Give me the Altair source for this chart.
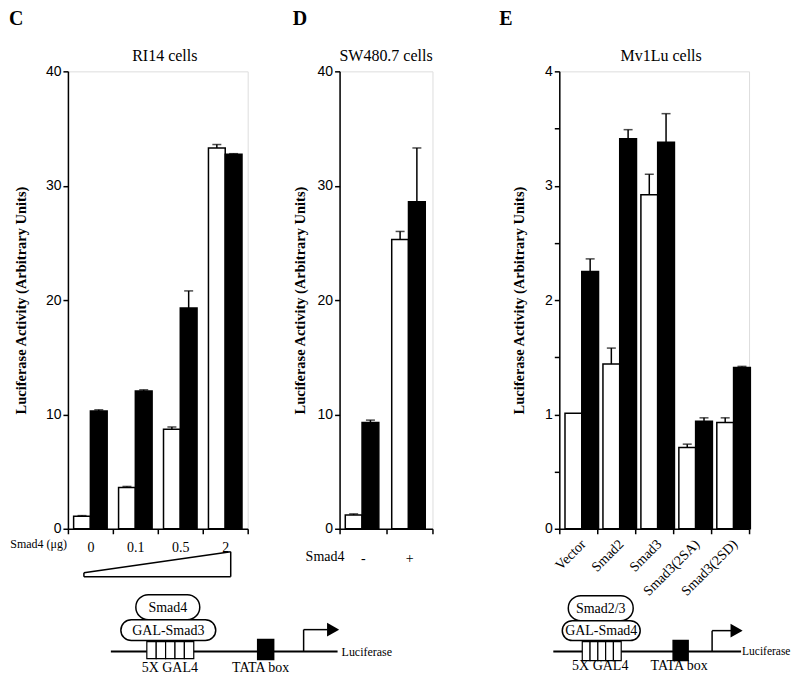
import altair as alt
import pandas as pd

SERIF = "Liberation Serif"
SANS = "Liberation Sans"
BLK = "black"
YTITLE = "Luciferase Activity (Arbitrary Units)"

# ---------------- data ----------------
C_doses = ["0", "0.1", "0.5", "2"]
C_open = [1.1, 3.6, 8.7, 33.3]
C_open_err = [0.05, 0.1, 0.2, 0.3]
C_solid = [10.3, 12.05, 19.3, 32.75]
C_solid_err = [0.1, 0.1, 1.5, 0.05]

D_smad4 = ["-", "+"]
D_open = [1.2, 25.3]
D_open_err = [0.1, 0.7]
D_solid = [9.3, 28.6]
D_solid_err = [0.2, 4.7]

E_constructs = ["Vector", "Smad2", "Smad3", "Smad3(2SA)", "Smad3(2SD)"]
E_open = [1.01, 1.44, 2.92, 0.71, 0.93]
E_open_err = [0.0, 0.14, 0.18, 0.03, 0.04]
E_solid = [2.25, 3.41, 3.38, 0.94, 1.41]
E_solid_err = [0.11, 0.08, 0.25, 0.03, 0.01]

ONE = pd.DataFrame({"k": [0]})


def make_frame(groups, o, oe, s, se):
    rows = []
    for g, v, e in zip(groups, o, oe):
        rows.append(dict(group=g, series="open", value=v, err=e, top=v + e))
    for g, v, e in zip(groups, s, se):
        rows.append(dict(group=g, series="solid", value=v, err=e, top=v + e))
    return pd.DataFrame(rows)


def txt(s, x, y, size=14, font=SERIF, align="center", baseline="alphabetic", weight="normal"):
    return alt.Chart(ONE).mark_text(text=s, fontSize=size, font=font, align=align,
                                    baseline=baseline, fontWeight=weight, color=BLK
                                    ).encode(x=alt.value(x), y=alt.value(y))


def seg(x1, y1, x2, y2, w=1.5):
    return alt.Chart(ONE).mark_rule(color=BLK, strokeWidth=w).encode(
        x=alt.value(x1), x2=alt.value(x2), y=alt.value(y1), y2=alt.value(y2))


def box(x1, y1, x2, y2, fill="white", r=0, w=1.5):
    m = dict(fill=fill, stroke=BLK, strokeWidth=w)
    if r:
        m["cornerRadius"] = r
    return alt.Chart(ONE).mark_rect(**m).encode(
        x=alt.value(x1), x2=alt.value(x2), y=alt.value(y1), y2=alt.value(y2))


def head(x, y, size=110):
    return alt.Chart(ONE).mark_point(shape="triangle-right", filled=True, fill=BLK,
                                     stroke=BLK, size=size, opacity=1
                                     ).encode(x=alt.value(x), y=alt.value(y))


def construct(line, luc_x, luc_size, sites, site_lbl_x, upper, upper_txt, lower, lower_txt,
              tata, tata_lbl_x, arrow_x, arrow_top, arrow_end, head_x, lbl_y):
    ly = 581
    L = [seg(line[0], ly, line[1], ly, 2)]
    L.append(txt("Luciferase", luc_x, ly, size=luc_size, align="left", baseline="middle"))
    x1, y1, x2, y2 = sites
    step = (x2 - x1) / 5
    for i in range(5):
        L.append(box(x1 + i * step, y1, x1 + (i + 1) * step, y2, w=1.2))
    L.append(txt("5X GAL4", site_lbl_x, lbl_y))
    L.append(box(*upper, r=(upper[3] - upper[1]) / 2))
    L.append(txt(upper_txt[0], upper_txt[1], upper_txt[2], size=14, baseline="middle"))
    L.append(box(*lower, r=(lower[3] - lower[1]) / 2))
    L.append(txt(lower_txt[0], lower_txt[1], lower_txt[2], size=14, baseline="middle"))
    L.append(box(*tata, fill=BLK))
    L.append(txt("TATA box", tata_lbl_x, lbl_y))
    L.append(seg(arrow_x, ly, arrow_x, arrow_top, 1.5))
    L.append(seg(arrow_x, arrow_top, arrow_end, arrow_top, 1.5))
    L.append(head(head_x, arrow_top))
    return L


def bar_layers(df, groups, ymax, yvals, opad, xaxis, ytitle_pad, label_expr=None):
    X = alt.X("group:N", sort=groups, title=None,
              scale=alt.Scale(paddingInner=0, paddingOuter=0), axis=xaxis)
    XO = alt.XOffset("series:N", sort=["open", "solid"],
                     scale=alt.Scale(domain=["open", "solid"], paddingInner=0, paddingOuter=opad))
    ak = dict(values=yvals, title=YTITLE, titlePadding=ytitle_pad, grid=False,
              domainColor=BLK, domainWidth=1.5, tickColor=BLK, tickWidth=1.5, tickSize=5,
              labelColor=BLK, labelFont=SANS, labelFontSize=14, labelPadding=2,
              titleFont=SERIF, titleFontSize=14.5, titleFontWeight="bold", titleColor=BLK)
    if label_expr:
        ak["labelExpr"] = label_expr
    yaxis = alt.Axis(**ak)
    ysc = alt.Scale(domain=[0, ymax], nice=False, zero=True)

    def Y(f):
        return alt.Y(f"{f}:Q", scale=ysc, axis=yaxis, title=YTITLE)

    base = alt.Chart(df)
    bars = base.mark_bar(stroke=BLK, strokeWidth=1.5).encode(
        x=X, xOffset=XO, y=Y("value"),
        fill=alt.Fill("series:N", scale=alt.Scale(domain=["open", "solid"], range=["white", "black"]),
                      legend=None))
    err = base.transform_filter("datum.err > 0").mark_rule(color=BLK, strokeWidth=1.5).encode(
        x=X, xOffset=XO, y=Y("value"), y2="top:Q")
    cap = base.transform_filter("datum.err > 0").mark_tick(color=BLK, thickness=1.5, size=9).encode(
        x=X, xOffset=XO, y=Y("top"))
    return [bars, err, cap]


def xaxis(pad, angle=0, size=14):
    return alt.Axis(title=None, tickBand="extent", labelAngle=angle, labelFont=SERIF,
                    labelFontSize=size, labelPadding=pad, labelColor=BLK, domainColor=BLK,
                    domainWidth=1.5, tickColor=BLK, tickWidth=1.5, tickSize=5, grid=False)


H = 458
LET_Y = -46
LET_SIZE = 20

# ---------------- panel C ----------------
dfC = make_frame(C_doses, C_open, C_open_err, C_solid, C_solid_err)
wedge = [seg(16, 502, 163, 481), seg(16, 502, 16, 506), seg(16, 506, 163, 506), seg(163, 481, 163, 506)]
diagC = construct(line=(43, 270), luc_x=274, luc_size=12, sites=(79, 571, 126, 588), site_lbl_x=102,
                  upper=(68, 524, 132, 549), upper_txt=("Smad4", 100, 537),
                  lower=(53, 549, 148, 570), lower_txt=("GAL-Smad3", 100.5, 560),
                  tata=(190, 569, 206, 589), tata_lbl_x=193,
                  arrow_x=236, arrow_top=559, arrow_end=260, head_x=265, lbl_y=601)
C = alt.layer(
    *bar_layers(dfC, C_doses, 40, [0, 10, 20, 30, 40], 0.34, xaxis(7), 17),
    txt("RI14 cells", 97, -10, size=16),
    txt("C", -59, LET_Y, size=LET_SIZE, weight="bold", align="left"),
    txt("Smad4 (μg)", -1, 477, size=12, align="right"),
    *wedge, *diagC,
).properties(width=180, height=H)

# ---------------- panel D ----------------
dfD = make_frame(D_smad4, D_open, D_open_err, D_solid, D_solid_err)
D = alt.layer(
    *bar_layers(dfD, D_smad4, 40, [0, 10, 20, 30, 40], 0.39, xaxis(18), 10),
    txt("SW480.7 cells", 46.5, -10, size=16),
    txt("D", -47, LET_Y, size=LET_SIZE, weight="bold", align="left"),
    txt("Smad4", -34, 490, size=14, align="left"),
).properties(width=93, height=H)

# ---------------- panel E ----------------
dfE = make_frame(E_constructs, E_open, E_open_err, E_solid, E_solid_err)
diagE = construct(line=(-6, 182), luc_x=183, luc_size=11.5, sites=(23, 571, 62, 590), site_lbl_x=41,
                  upper=(9, 525, 74, 550), upper_txt=("Smad2/3", 41.5, 538),
                  lower=(3, 550, 81, 570), lower_txt=("GAL-Smad4", 42, 560),
                  tata=(114, 570, 129, 590), tata_lbl_x=120,
                  arrow_x=153, arrow_top=560, arrow_end=172, head_x=177, lbl_y=599)
E = alt.layer(
    *bar_layers(dfE, E_constructs, 4, [0, 0.5, 1, 1.5, 2, 2.5, 3, 3.5, 4], 0.13,
                xaxis(3, angle=-45, size=14), 18,
                label_expr="datum.value % 1 === 0 ? format(datum.value, 'd') : ''"),
    txt("Mv1Lu cells", 102, -10, size=16),
    txt("E", -60, LET_Y, size=LET_SIZE, weight="bold", align="left"),
    *diagE,
).properties(width=190, height=H)


def spacer(w):
    return alt.Chart(ONE).mark_rule(strokeOpacity=0).encode(
        x=alt.value(0), y=alt.value(0)
    ).properties(width=w, height=H, view=alt.ViewBackground(stroke="transparent"))


chart = alt.hconcat(C, spacer(92), D, spacer(127), E, spacing=0, bounds="flush", padding=0
                    ).configure_view(stroke=BLK, strokeWidth=1.5).configure(background="white")

chart.save("out.html", embed_options={"renderer": "svg", "actions": False})
